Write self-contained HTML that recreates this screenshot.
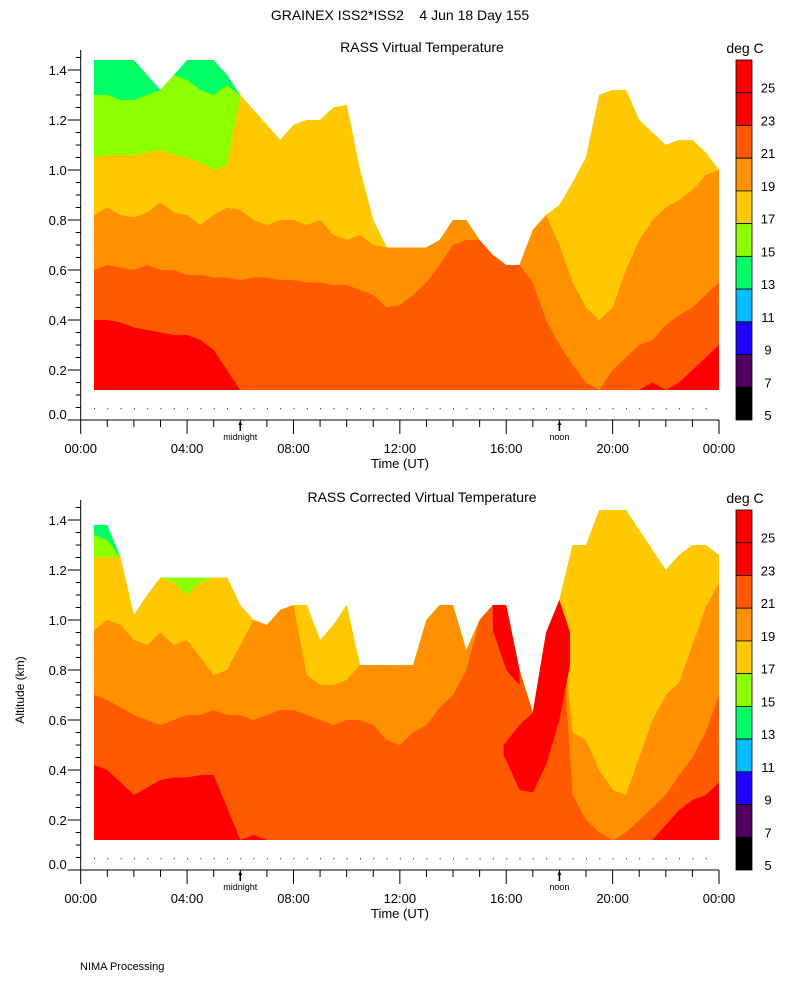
<!DOCTYPE html>
<html><head><meta charset="utf-8"><style>
html,body{margin:0;padding:0;background:#fff;}
svg{display:block;font-family:"Liberation Sans",sans-serif;}
</style></head><body>
<svg id="chart" width="800" height="1000" viewBox="0 0 800 1000">
<text x="400" y="20" text-anchor="middle" font-size="14" style="white-space:pre" xml:space="preserve">GRAINEX ISS2*ISS2    4 Jun 18 Day 155</text>
<text x="80" y="970" font-size="11">NIMA Processing</text>
<text transform="translate(24,690) rotate(-90)" text-anchor="middle" font-size="12">Altitude (km)</text>
</svg>
<script>
const T=[0.5,1,1.5,2,2.5,3,3.5,4,4.5,5,5.5,6,6.5,7,7.5,8,8.5,9,9.5,10,10.5,11,11.5,12,12.5,13,13.5,14,14.5,15,15.5,16,16.5,17,17.5,18,18.5,19,19.5,20,20.5,21,21.5,22,22.5,23,23.5,24];
const colorLevels=[25,23,21,19,17,15,13,11,9,7,5];
const binColors=["#ff0000","#ff0000","#ff5a00","#ff9000","#ffc800","#8cff00","#00ff64","#00beff","#2000ff","#500060","#000000"];
const xTickLabels=["00:00","04:00","08:00","12:00","16:00","20:00","00:00"];
const yTickLabels=["0.0","0.2","0.4","0.6","0.8","1.0","1.2","1.4"];

// Panel 1: RASS Virtual Temperature (altitudes in km of data top and isotherm boundaries)
const p1Top=[1.44,1.44,1.44,1.44,1.38,1.32,1.38,1.44,1.44,1.44,1.38,1.3,1.24,1.18,1.12,1.18,1.2,1.2,1.25,1.26,1.0,0.8,0.69,0.69,0.69,0.69,0.72,0.8,0.8,0.72,0.66,0.62,0.62,0.76,0.82,0.86,0.95,1.05,1.3,1.32,1.32,1.2,1.15,1.1,1.12,1.12,1.07,1.0];
const p1B15=[1.3,1.3,1.28,1.28,1.3,1.36,1.38,1.36,1.32,1.3,1.34,2,2,2,2,2,2,2,2,2,2,2,2,2,2,2,2,2,2,2,2,2,2,2,2,2,2,2,2,2,2,2,2,2,2,2,2,2];
const p1B17=[1.05,1.06,1.06,1.06,1.07,1.08,1.06,1.05,1.03,1.0,1.02,1.3,2,2,2,2,2,2,2,2,2,2,2,2,2,2,2,2,2,2,2,2,2,2,2,2,2,2,2,2,2,2,2,2,2,2,2,2];
const p1B19=[0.82,0.85,0.82,0.81,0.83,0.87,0.83,0.82,0.78,0.82,0.85,0.84,0.8,0.78,0.8,0.8,0.78,0.8,0.74,0.72,0.74,0.7,2,2,2,2,2,2,2,2,2,2,2,2,0.82,0.7,0.55,0.45,0.4,0.45,0.6,0.72,0.8,0.85,0.88,0.92,0.98,2];
const p1B21=[0.6,0.62,0.61,0.6,0.62,0.6,0.6,0.58,0.58,0.57,0.57,0.56,0.57,0.57,0.56,0.56,0.55,0.55,0.54,0.54,0.52,0.5,0.45,0.46,0.5,0.55,0.62,0.7,0.72,2,2,2,2,0.55,0.4,0.3,0.22,0.15,0.12,0.2,0.25,0.3,0.32,0.38,0.42,0.45,0.5,0.55];
const p1B23=[0.4,0.4,0.39,0.37,0.36,0.35,0.34,0.34,0.32,0.28,0.2,0,0,0,0,0,0,0,0,0,0,0,0,0,0,0,0,0,0,0,0,0,0,0,0,0,0,0,0,0,0,0,0.15,0.1,0.15,0.2,0.25,0.3];

// Panel 2: RASS Corrected Virtual Temperature
const p2Top=[1.38,1.38,1.25,1.02,1.1,1.17,1.17,1.17,1.17,1.17,1.17,1.06,1.0,0.98,1.04,1.06,1.06,0.92,0.98,1.06,0.82,0.82,0.82,0.82,0.82,1.0,1.06,1.06,0.88,1.0,1.06,1.06,0.8,0.63,0.95,1.08,1.3,1.3,1.44,1.44,1.44,1.36,1.28,1.2,1.26,1.3,1.3,1.26];
const p2B15=[1.34,1.32,2,2,2,2,2,2,2,2,2,2,2,2,2,2,2,2,2,2,2,2,2,2,2,2,2,2,2,2,2,2,2,2,2,2,2,2,2,2,2,2,2,2,2,2,2,2];
const p2B17=[1.25,1.25,1.3,2,2,2,1.15,1.1,1.15,2,2,2,2,2,2,2,2,2,2,2,2,2,2,2,2,2,2,2,2,2,2,2,2,2,2,2,2,2,2,2,2,2,2,2,2,2,2,2];
const p2B19=[0.96,1.0,0.98,0.92,0.9,0.95,0.9,0.92,0.85,0.78,0.8,0.9,1.1,1.1,1.1,1.1,0.78,0.74,0.74,0.76,2,2,2,2,2,2,2,2,2,2,2,2,2,2,2,2,0.55,0.52,0.4,0.32,0.3,0.45,0.6,0.7,0.75,0.9,1.05,1.15];
const p2B21=[0.7,0.68,0.65,0.62,0.6,0.58,0.6,0.62,0.62,0.64,0.62,0.62,0.6,0.62,0.64,0.64,0.62,0.6,0.58,0.6,0.6,0.58,0.52,0.5,0.55,0.58,0.65,0.7,0.8,1.0,2,2,2,2,2,2,0.3,0.2,0.15,0.12,0.15,0.2,0.25,0.3,0.38,0.45,0.55,0.7];
const p2B23=[0.42,0.4,0.35,0.3,0.33,0.36,0.37,0.37,0.38,0.38,0.25,0.12,0.14,0.1,0,0,0,0,0,0,0,0,0,0,0,0,0,0,0,0,0,0,0,0,0,0,0,0,0,0,0,0.05,0.12,0.18,0.24,0.28,0.3,0.35];
// upper red streaks (low/high altitude per time, null where absent)
const p2StreakAT=[15.5,16,16.5];
const p2StreakALo=[0.96,0.8,0.74];
const p2StreakAHi=[1.06,1.06,0.8];
const p2StreakBT=[15.9,16.5,17,17.5,18,18.4];
const p2StreakBLo=[0.46,0.32,0.31,0.42,0.6,0.82];
const p2StreakBHi=[0.5,0.58,0.63,0.95,1.08,0.95];

const NS="http://www.w3.org/2000/svg";
const svg=document.getElementById('chart');
function mk(tag,attrs,parent){const e=document.createElementNS(NS,tag);for(const k in attrs)e.setAttribute(k,attrs[k]);(parent||svg).appendChild(e);return e;}

function drawPanel(p){
  const X0=80.7,X1=719,Y0=p.y0;
  const xs=t=>X0+(X1-X0)*t/24;
  const ys=a=>Y0-250*a;
  const g=mk('g',{});
  
  
  const base=0.12;
  const layers=[[p.top,"#00ff64","band-13-15"],[p.b15,"#8cff00","band-15-17"],[p.b17,"#ffc800","band-17-19"],[p.b19,"#ff9000","band-19-21"],[p.b21,"#ff5a00","band-21-23"],[p.b23,"#ff0000","band-23-25"]];
  layers.forEach(L=>{
    const arr=L[0];let pts=[];
    for(let i=0;i<T.length;i++){const a=Math.max(base,Math.min(arr[i],p.top[i]));pts.push(xs(T[i]).toFixed(1)+','+ys(a).toFixed(1));}
    pts.push(xs(T[T.length-1]).toFixed(1)+','+ys(base).toFixed(1));
    pts.push(xs(T[0]).toFixed(1)+','+ys(base).toFixed(1));
    const pg=mk('polygon',{points:pts.join(' '),fill:L[1]},g);
    
    
  });
  (p.streaks||[]).forEach(s=>{
    const up=s.t.map((t,i)=>xs(t).toFixed(1)+','+ys(s.hi[i]).toFixed(1));
    const dn=s.t.map((t,i)=>xs(t).toFixed(1)+','+ys(s.lo[i]).toFixed(1)).reverse();
    const pg=mk('polygon',{points:up.concat(dn).join(' '),fill:'#ff0000'},g);
    
    
  });
  for(let i=0;i<T.length-1;i++){mk('rect',{x:xs(T[i]).toFixed(1),y:ys(0.045)-0.5,width:1,height:1,fill:'#000'},g);}
  const ax=mk('g',{stroke:'#000','stroke-width':1,fill:'none'},g);
  
  
  mk('line',{x1:X0,y1:Y0,x2:X1,y2:Y0},ax);
  mk('line',{x1:X0,y1:Y0,x2:X0,y2:ys(1.48)},ax);
  for(let h=0;h<=24;h++){const L=(h%4===0)?14:7;mk('line',{x1:xs(h),y1:Y0,x2:xs(h),y2:Y0+L},ax);}
  for(let k=0;k<=29;k++){const a=k*0.05;const L=(k%4===0)?13:5;mk('line',{x1:X0-L,y1:ys(a),x2:X0,y2:ys(a)},ax);}
  xTickLabels.forEach((s,i)=>{const t=mk('text',{x:xs(i*4),y:Y0+33,'text-anchor':'middle','font-size':13},g);t.textContent=s;
    
    });
  yTickLabels.forEach((s,i)=>{const t=mk('text',{x:X0-14,y:ys(i*0.2)+(i===0?-1:5),'text-anchor':'end','font-size':13},g);t.textContent=s;
    
    });
  [[6,'midnight'],[18,'noon']].forEach(m=>{const x=xs(m[0]);mk('line',{x1:x,y1:Y0+2,x2:x,y2:Y0+11,stroke:'#000','stroke-width':1.5},g);mk('path',{d:`M${x-2},${Y0+5} L${x},${Y0+1} L${x+2},${Y0+5}Z`,fill:'#000'},g);
    const t=mk('text',{x:x,y:Y0+20,'text-anchor':'middle','font-size':9},g);t.textContent=m[1];
    
    });
  const xt=mk('text',{x:400,y:Y0+48,'text-anchor':'middle','font-size':13},g);xt.textContent='Time (UT)';
  
  
  const tt=mk('text',{x:422,y:Y0-368,'text-anchor':'middle','font-size':14},g);tt.textContent=p.title;
  
  
  const cb=mk('g',{},g);
  
  
  const cy0=Y0-360,bh=360/11;
  binColors.forEach((c,i)=>{mk('rect',{x:736,y:cy0+i*bh,width:16,height:bh,fill:c,stroke:'#000','stroke-width':0.8},cb);});
  colorLevels.forEach((v,i)=>{const t=mk('text',{x:768,y:cy0+(i+1)*bh,'text-anchor':'middle','font-size':13},cb);t.textContent=v;
    
    });
  const dc=mk('text',{x:745,y:cy0-7,'text-anchor':'middle','font-size':14},cb);dc.textContent='deg  C';
  
  
}
drawPanel({name:'panel-virtual-temperature',title:'RASS Virtual Temperature',y0:420,top:p1Top,b15:p1B15,b17:p1B17,b19:p1B19,b21:p1B21,b23:p1B23,streaks:[]});
drawPanel({name:'panel-corrected-virtual-temperature',title:'RASS Corrected Virtual Temperature',y0:870,top:p2Top,b15:p2B15,b17:p2B17,b19:p2B19,b21:p2B21,b23:p2B23,
  streaks:[{t:p2StreakAT,lo:p2StreakALo,hi:p2StreakAHi},{t:p2StreakBT,lo:p2StreakBLo,hi:p2StreakBHi}]});
</script>
</body></html>
